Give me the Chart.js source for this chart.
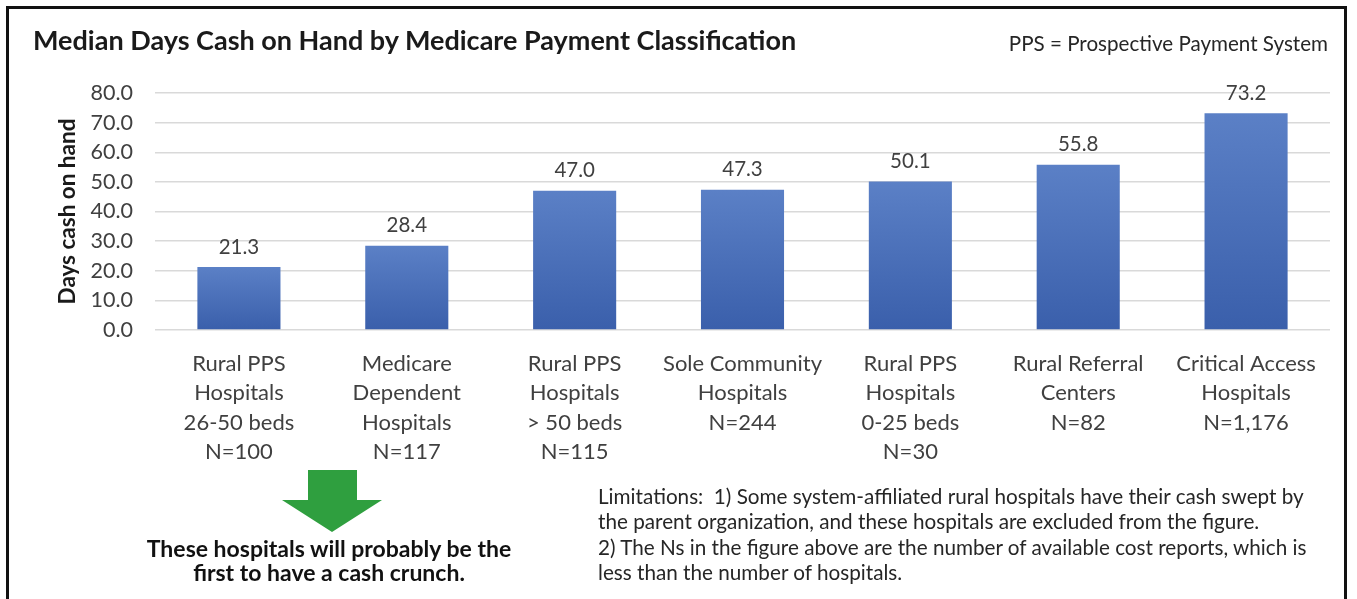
<!DOCTYPE html>
<html>
<head>
<meta charset="utf-8">
<script src="https://cdn.jsdelivr.net/npm/chart.js@4.4.1/dist/chart.umd.min.js"></script>
<style>
  html, body { margin: 0; padding: 0; background: #fff; }
  #wrap { position: relative; width: 1357px; height: 599px; overflow: hidden; font-family: Lato, "Open Sans", sans-serif; color: #262626; }
  #frame { position: absolute; left: 6px; top: 6px; width: 1341px; height: 640px; border: 3px solid #111; box-sizing: border-box; }
  canvas { position: absolute; left: 0; top: 0; }
  .note { position: absolute; white-space: nowrap; }
  #title { left: 33px; top: 23px; font-size: 27px; line-height: 34px; font-weight: bold; color: #1a1a1a; }
  #pps { right: 29px; top: 30px; font-size: 20.6px; line-height: 26px; }
  #arrow { position: absolute; left: 282px; top: 470px; }
  #crunch { left: 79px; width: 500px; top: 536px; text-align: center; font-size: 23px; line-height: 24px; font-weight: bold; color: #111; }
  #limits { left: 598px; top: 484px; font-size: 20.7px; line-height: 25.3px; }
</style>
</head>
<body>
<div id="wrap">
  <canvas id="chart" width="1357" height="599"></canvas>
  <div id="frame"></div>
  <div class="note" id="title">Median Days Cash on Hand by Medicare Payment Classification</div>
  <div class="note" id="pps">PPS = Prospective Payment System</div>
  <svg id="arrow" width="100" height="63" viewBox="0 0 100 63">
    <polygon points="26,0 75,0 75,30 100,30 50,62 0,30 26,30" fill="#2f9f3f"/>
  </svg>
  <div class="note" id="crunch">These hospitals will probably be the<br>first to have a cash crunch.</div>
  <div class="note" id="limits">Limitations:&nbsp; 1) Some system-affiliated rural hospitals have their cash swept by<br>the parent organization, and these hospitals are excluded from the figure.<br>2) The Ns in the figure above are the number of available cost reports, which is<br>less than the number of hospitals.</div>
</div>
<script>
// categories (multi-line axis labels)
const categories = [
  ["Rural PPS", "Hospitals", "26-50 beds", "N=100"],
  ["Medicare", "Dependent", "Hospitals", "N=117"],
  ["Rural PPS", "Hospitals", "> 50 beds", "N=115"],
  ["Sole Community", "Hospitals", "N=244"],
  ["Rural PPS", "Hospitals", "0-25 beds", "N=30"],
  ["Rural Referral", "Centers", "N=82"],
  ["Critical Access", "Hospitals", "N=1,176"]
];
// median days cash on hand
const cashDays = [21.3, 28.4, 47.0, 47.3, 50.1, 55.8, 73.2];
const yTicks = [0, 10, 20, 30, 40, 50, 60, 70, 80];

const textColor = "#404040";

// value labels above bars
const valueLabels = {
  id: "valueLabels",
  afterDatasetsDraw(chart) {
    const ctx = chart.ctx;
    const meta = chart.getDatasetMeta(0);
    ctx.save();
    ctx.font = "20.5px Lato";
    ctx.fillStyle = textColor;
    ctx.textAlign = "center";
    ctx.textBaseline = "middle";
    meta.data.forEach((bar, i) => {
      ctx.fillText(cashDays[i].toFixed(1), bar.x, bar.y - 20);
    });
    ctx.restore();
  }
};

// lighter top, darker bottom on each bar
function barGradient(context) {
  const chart = context.chart;
  const y = chart.scales.y;
  if (!chart.chartArea || !y || context.dataIndex === undefined) return "#4a70b8";
  const top = y.getPixelForValue(cashDays[context.dataIndex]);
  const bottom = y.getPixelForValue(0);
  const g = chart.ctx.createLinearGradient(0, top, 0, bottom);
  g.addColorStop(0, "#5b80c6");
  g.addColorStop(1, "#3a5fab");
  return g;
}

new Chart(document.getElementById("chart"), {
  type: "bar",
  data: {
    labels: categories,
    datasets: [{
      data: cashDays,
      backgroundColor: barGradient,
      borderWidth: 0,
      categoryPercentage: 1,
      barPercentage: 0.495
    }]
  },
  options: {
    responsive: false,
    devicePixelRatio: 1,
    animation: false,
    layout: { padding: { left: 0, top: 93, right: 27, bottom: 0 } },
    plugins: { legend: { display: false }, tooltip: { enabled: false } },
    scales: {
      x: {
        grid: { display: false },
        border: { display: false },
        ticks: {
          color: textColor,
          font: { family: "Lato", size: 22, lineHeight: 1.34 },
          padding: 11,
          maxRotation: 0,
          autoSkip: false
        },
        afterFit(scale) { scale.height = 269; }
      },
      y: {
        min: 0,
        max: 80,
        afterBuildTicks(scale) { scale.ticks = yTicks.map(v => ({ value: v })); },
        grid: { color: "#d9d9d9", lineWidth: 1.5, drawTicks: false },
        border: { display: false },
        ticks: {
          color: textColor,
          font: { family: "Lato", size: 21.5 },
          padding: 22,
          callback: v => v.toFixed(1)
        },
        title: {
          display: true,
          text: "Days cash on hand",
          color: "#1a1a1a",
          font: { family: "Lato", size: 22.5, weight: "bold" },
          padding: { top: 54, bottom: 0 }
        },
        afterFit(scale) { scale.width = 155; }
      }
    }
  },
  plugins: [valueLabels]
});
</script>
</body>
</html>
